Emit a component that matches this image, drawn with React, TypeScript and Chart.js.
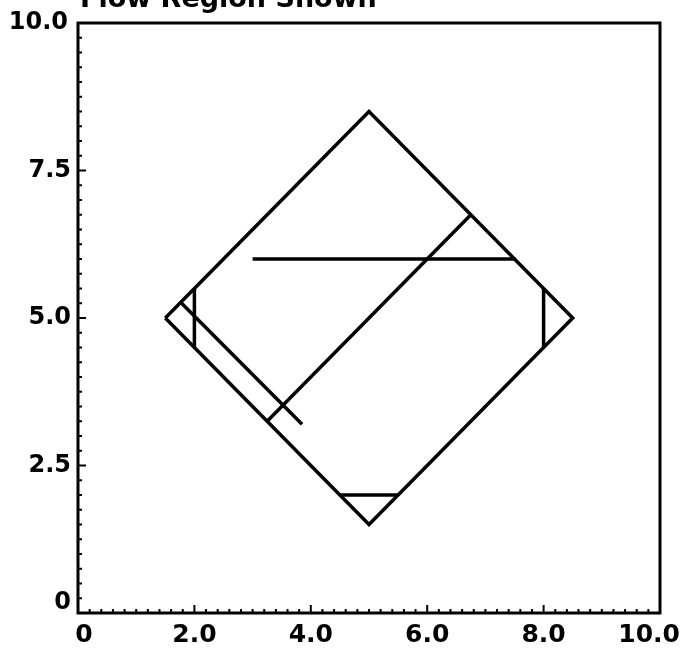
import React, { useEffect, useRef } from "react";
import { Chart, registerables } from "chart.js";

Chart.register(...registerables);

const TITLE = "Flow Region Shown";

const diamondX = [1.5, 5, 8.5, 5, 1.5];
const diamondY = [5, 8.5, 5, 1.5, 5];
const leftVertX = [2, 2];
const leftVertY = [5.5, 4.5];
const leftDiagX = [1.75, 3.85];
const leftDiagY = [5.28, 3.2];
const longDiagX = [3.25, 6.75];
const longDiagY = [3.25, 6.75];
const horizX = [3.0, 7.52];
const horizY = [6, 6];
const rightVertX = [8, 8];
const rightVertY = [5.5, 4.5];
const bottomX = [4.5, 5.5];
const bottomY = [2, 2];

const xTickValues = [0, 2, 4, 6, 8, 10];
const xTickLabels = ["0", "2.0", "4.0", "6.0", "8.0", "10.0"];
const yTickValues = [0, 2.5, 5, 7.5, 10];
const yTickLabels = ["0", "2.5", "5.0", "7.5", "10.0"];
const xMinorStep = 0.2;
const yMinorStep = 0.25;

const FONT = "bold 24px 'DejaVu Sans'";
const XFONT = "bold 25px 'DejaVu Sans'";
const INK = "#000";

function seg(xs: number[], ys: number[]) {
  return xs.map((x, i) => ({ x, y: ys[i] }));
}

const framePlugin = {
  id: "frame",
  afterDraw(chart: any) {
    const { ctx, chartArea, scales } = chart;
    const xs = scales.x;
    const ys = scales.y;
    ctx.save();
    ctx.strokeStyle = INK;
    ctx.fillStyle = INK;
    ctx.lineWidth = 3;
    ctx.lineCap = "square";
    ctx.strokeRect(
      chartArea.left,
      chartArea.top,
      chartArea.right - chartArea.left,
      chartArea.bottom - chartArea.top
    );
    ctx.lineWidth = 2;
    ctx.lineCap = "butt";
    const nx = Math.round(10 / xMinorStep);
    for (let i = 1; i < nx; i++) {
      const v = i * xMinorStep;
      const px = xs.getPixelForValue(v);
      const major = xTickValues.some((t) => Math.abs(t - v) < 1e-6);
      const len = major ? 8 : 4;
      ctx.beginPath();
      ctx.moveTo(px, chartArea.bottom);
      ctx.lineTo(px, chartArea.bottom - len);
      ctx.stroke();
    }
    const ny = Math.round(10 / yMinorStep);
    for (let i = 1; i < ny; i++) {
      const v = i * yMinorStep;
      const py = ys.getPixelForValue(v);
      const major = yTickValues.some((t) => Math.abs(t - v) < 1e-6);
      const len = major ? 8 : 4;
      ctx.beginPath();
      ctx.moveTo(chartArea.left, py);
      ctx.lineTo(chartArea.left + len, py);
      ctx.stroke();
    }
    ctx.font = XFONT;
    ctx.textBaseline = "top";
    const last = xTickValues.length - 1;
    xTickValues.forEach((v, i) => {
      const px = xs.getPixelForValue(v);
      if (i === last) {
        ctx.textAlign = "right";
        ctx.fillText(xTickLabels[i], px + 20, chartArea.bottom + 10);
      } else if (i === 0) {
        ctx.textAlign = "center";
        ctx.fillText(xTickLabels[i], px + 6, chartArea.bottom + 10);
      } else {
        ctx.textAlign = "center";
        ctx.fillText(xTickLabels[i], px, chartArea.bottom + 10);
      }
    });
    ctx.font = FONT;
    ctx.textAlign = "right";
    ctx.textBaseline = "middle";
    yTickValues.forEach((v, i) => {
      const py = ys.getPixelForValue(v);
      const dy = v === 0 ? -10 : 0;
      const dx = v === 10 ? -3 : 0;
      ctx.fillText(yTickLabels[i], chartArea.left - 7 + dx, py + dy);
    });
    ctx.font = "bold 27px 'DejaVu Sans'";
    ctx.textAlign = "left";
    ctx.textBaseline = "alphabetic";
    ctx.fillText(TITLE, chartArea.left + 2, 7);
    ctx.restore();
  },
};

export default function App() {
  const ref = useRef<HTMLCanvasElement | null>(null);
  useEffect(() => {
    if (!ref.current) return;
    const mk = (xs: number[], ys: number[]) => ({
      data: seg(xs, ys),
      showLine: true,
      borderColor: INK,
      borderWidth: 3.5,
      pointRadius: 0,
      fill: false,
      tension: 0,
      borderJoinStyle: "miter" as const,
    });
    const chart = new Chart(ref.current, {
      type: "scatter",
      data: {
        datasets: [
          mk(diamondX, diamondY),
          mk(leftVertX, leftVertY),
          mk(leftDiagX, leftDiagY),
          mk(longDiagX, longDiagY),
          mk(horizX, horizY),
          mk(rightVertX, rightVertY),
          mk(bottomX, bottomY),
        ],
      },
      options: {
        responsive: false,
        animation: false,
        layout: { padding: { left: 78, right: 23, top: 23, bottom: 39 } },
        plugins: {
          legend: { display: false },
          title: { display: false },
          tooltip: { enabled: false },
        },
        scales: {
          x: { type: "linear", min: 0, max: 10, display: false },
          y: { type: "linear", min: 0, max: 10, display: false },
        },
      },
      plugins: [framePlugin],
    });
    return () => chart.destroy();
  }, []);
  return (
    <div style={{ position: "absolute", left: 0, top: 0, background: "#fff" }}>
      <canvas ref={ref} width={683} height={652} style={{ display: "block" }} />
    </div>
  );
}
